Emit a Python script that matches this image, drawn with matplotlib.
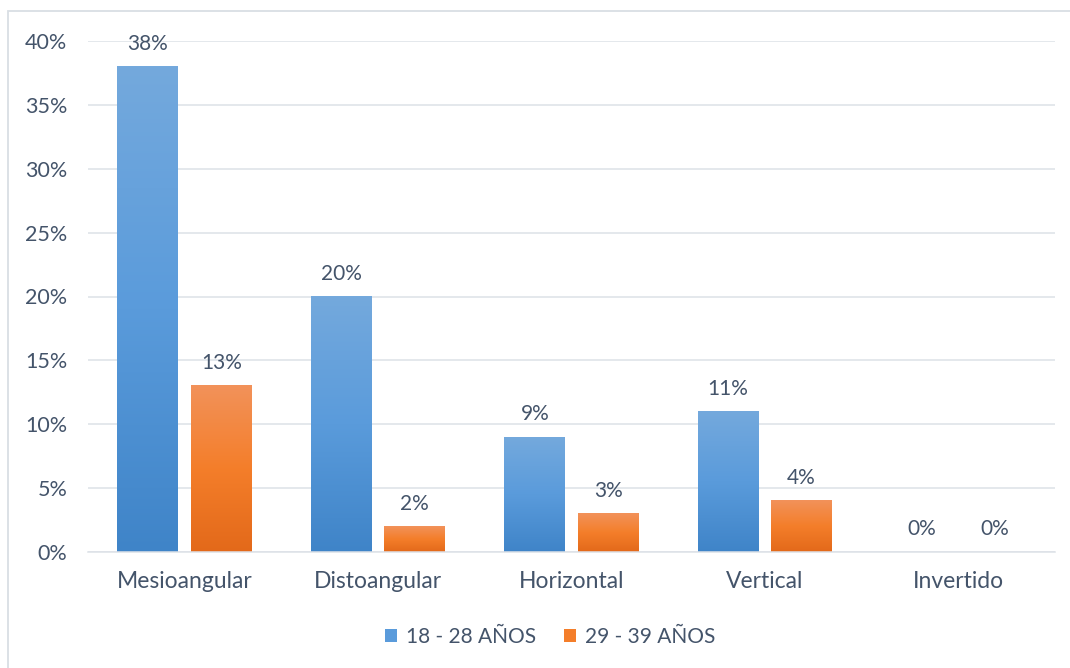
import numpy as np
import matplotlib.pyplot as plt
from matplotlib.colors import LinearSegmentedColormap
from matplotlib.patches import Rectangle, Patch

categorias = ['Mesioangular', 'Distoangular', 'Horizontal', 'Vertical', 'Invertido']
grupo_18_28 = [38, 20, 9, 11, 0]
grupo_29_39 = [13, 2, 3, 4, 0]
series = ['18 - 28 AÑOS', '29 - 39 AÑOS']
yticks = [0, 5, 10, 15, 20, 25, 30, 35, 40]

texto = '#44546A'
rejilla = '#DDE1E7'
fs = 15
# degradado de cada barra: abajo oscuro -> arriba claro
azul = LinearSegmentedColormap.from_list('azul', ['#3F84C8', '#5A9BDB', '#74A9DD'])
naranja = LinearSegmentedColormap.from_list('naranja', ['#E3691A', '#F47E2A', '#F2925A'])

plt.rcParams['font.family'] = ['Lato', 'DejaVu Sans']

fig = plt.figure(figsize=(10.70, 6.68), dpi=100)
fig.patches.append(Rectangle((8 / 1070, -0.1), 1.2, 0.1 + (1 - 11 / 668),
                             transform=fig.transFigure, fill=False,
                             edgecolor='#D9DEE4', linewidth=1.3))
ax = fig.add_axes([88 / 1070, 1 - 552 / 668, (1055 - 88) / 1070, (552 - 41) / 668])

x = np.arange(len(categorias))
ancho = 0.315
desp = 0.19
grad = np.linspace(0, 1, 256).reshape(-1, 1)

for vals, dx, cmap in [(grupo_18_28, -desp, azul), (grupo_29_39, desp, naranja)]:
    barras = ax.bar(x + dx, vals, ancho, color='none', edgecolor='none', zorder=2)
    for b, v in zip(barras, vals):
        if v > 0:
            x0 = b.get_x()
            ax.imshow(grad, cmap=cmap, origin='lower', aspect='auto',
                      extent=(x0, x0 + b.get_width(), 0, v), zorder=2)
        ax.annotate(f'{v}%', (b.get_x() + b.get_width() / 2, v),
                    xytext=(0, 12), textcoords='offset points',
                    ha='center', va='baseline', fontsize=fs, color=texto)

ax.set_xlim(-0.5, len(categorias) - 0.5)
ax.set_ylim(0, 40)
ax.set_yticks(yticks)
ax.set_yticklabels([f'{t}%' for t in yticks], fontsize=15.5)
ax.set_xticks(x)
ax.set_xticklabels(categorias, fontsize=16.5)
ax.grid(axis='y', color=rejilla, linewidth=1.1, zorder=0)
ax.set_axisbelow(True)
for s in ['top', 'right', 'left']:
    ax.spines[s].set_visible(False)
ax.spines['bottom'].set_color(rejilla)
ax.spines['bottom'].set_linewidth(1.1)
ax.tick_params(axis='both', length=0, labelcolor=texto)
ax.tick_params(axis='y', pad=15)
ax.tick_params(axis='x', pad=14)

handles = [Patch(facecolor='#5A9BDB', edgecolor='none'),
           Patch(facecolor='#F47E2A', edgecolor='none')]
fig.legend(handles, series, loc='center', bbox_to_anchor=(0.514, 1 - 637 / 668),
           ncol=2, frameon=False, fontsize=fs, labelcolor=texto,
           handlelength=0.6, handleheight=0.6, handletextpad=0.4,
           columnspacing=1.35)

fig.savefig('out.png', dpi=100)
